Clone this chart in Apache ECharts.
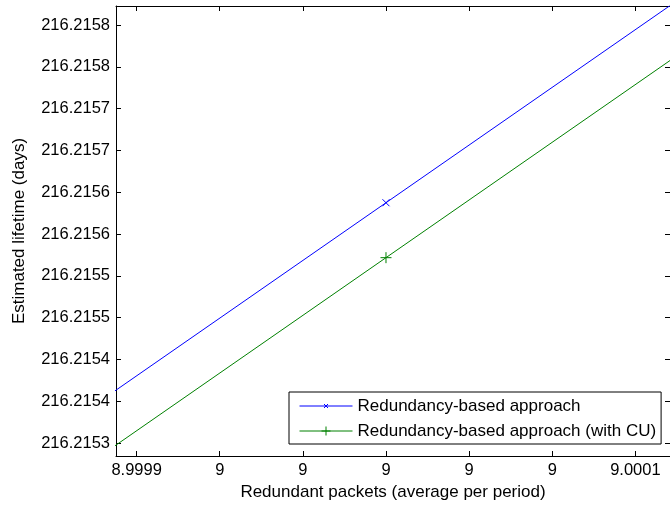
<!DOCTYPE html>
<html><head><meta charset="utf-8">
<script src="https://cdn.jsdelivr.net/npm/echarts@6/dist/echarts.min.js"></script>
<style>html,body{margin:0;padding:0;background:#fff}#c{width:670px;height:506px}</style>
</head><body><div id="c"></div>
<script>
// ---- data ----
const xValues = [8, 9, 10];
const seriesNames = ['Redundancy-based approach', 'Redundancy-based approach (with CU)'];
const redundancyValues = [212.7645874, 216.2155874, 219.6665874];
const redundancyCUValues = [212.7645217, 216.2155217, 219.6665217];
const xTickValues = [8.99994, 8.99996, 8.99998, 9.0, 9.00002, 9.00004, 9.00006];
const xTickLabels = ['8.9999', '9', '9', '9', '9', '9', '9.0001'];
const yTickValues = [216.2153, 216.21535, 216.2154, 216.21545, 216.2155, 216.21555, 216.2156, 216.21565, 216.2157, 216.21575, 216.2158];
const yTickLabels = ['216.2153', '216.2154', '216.2154', '216.2155', '216.2155', '216.2156', '216.2156', '216.2157', '216.2157', '216.2158', '216.2158'];
const xRange = [8.99993504, 9.00006833];
const yRange = [216.21528445, 216.21582273];

const FONT = "'Liberation Sans', Arial, Helvetica, sans-serif";
const BLUE = '#0000ff';
const GREEN = '#008000';

function labelFor(values, labels) {
  return function (v) {
    for (let i = 0; i < values.length; i++) {
      if (Math.abs(values[i] - v) < 1e-9) return labels[i];
    }
    return '';
  };
}

function makeAxis(kind, position, showLabels, name) {
  const vals = kind === 'x' ? xTickValues : yTickValues;
  const labs = kind === 'x' ? xTickLabels : yTickLabels;
  const range = kind === 'x' ? xRange : yRange;
  const ax = {
    type: 'value',
    position: position,
    min: range[0],
    max: range[1],
    scale: true,
    splitLine: { show: false },
    axisLine: { show: true, onZero: false, lineStyle: { color: '#000', width: 1 } },
    axisTick: { show: true, inside: true, length: 5, customValues: vals, lineStyle: { color: '#000', width: 1 } },
    axisLabel: {
      show: showLabels,
      customValues: vals,
      formatter: labelFor(vals, labs),
      color: '#000',
      fontSize: 16.5,
      fontFamily: FONT,
      margin: 6
    },
    silent: true
  };
  if (name) {
    ax.name = name;
    ax.nameLocation = 'middle';
    ax.nameTextStyle = { color: '#000', fontSize: 17, fontFamily: FONT };
    ax.nameGap = kind === 'x' ? 27 : 88;
  }
  return ax;
}

const chart = echarts.init(document.getElementById('c'), null, { renderer: 'canvas' });
chart.setOption({
  animation: false,
  backgroundColor: '#fff',
  grid: { left: 116, top: 6, width: 556, height: 450, containLabel: false },
  xAxis: [
    makeAxis('x', 'bottom', true, 'Redundant packets (average per period)'),
    makeAxis('x', 'top', false, null)
  ],
  yAxis: [
    makeAxis('y', 'left', true, 'Estimated lifetime (days)'),
    makeAxis('y', 'right', false, null)
  ],
  legend: {
    left: 289,
    top: 392,
    orient: 'vertical',
    itemWidth: 53,
    itemHeight: 14,
    itemGap: 7,
    padding: [5, 5, 4, 10],
    borderColor: '#000',
    borderWidth: 1,
    borderRadius: 0,
    backgroundColor: '#fff',
    selectedMode: false,
    itemStyle: { borderWidth: 1 },
    textStyle: { color: '#000', fontSize: 17, fontFamily: FONT, lineHeight: 18 },
    data: [
      { name: seriesNames[0], icon: 'path://M0 0M53 14M0 7L53 7M24.5 5L28.5 9M28.5 5L24.5 9' },
      { name: seriesNames[1], icon: 'path://M0 0M53 14M0 7L53 7M26.5 2.5L26.5 11.5M22 7L31 7' }
    ]
  },
  series: [
    {
      name: seriesNames[0],
      type: 'line',
      xAxisIndex: 0, yAxisIndex: 0,
      data: xValues.map((x, i) => [x, redundancyValues[i]]),
      symbol: 'path://M0 0L10 10M10 0L0 10',
      symbolSize: 7,
      showAllSymbol: true,
      clip: true,
      lineStyle: { color: BLUE, width: 1 },
      itemStyle: { color: BLUE, borderColor: BLUE, borderWidth: 1 },
      emphasis: { disabled: true },
      silent: true
    },
    {
      name: seriesNames[1],
      type: 'line',
      xAxisIndex: 0, yAxisIndex: 0,
      data: xValues.map((x, i) => [x, redundancyCUValues[i]]),
      symbol: 'path://M5 0L5 10M0 5L10 5',
      symbolSize: 11,
      showAllSymbol: true,
      clip: true,
      lineStyle: { color: GREEN, width: 1 },
      itemStyle: { color: GREEN, borderColor: GREEN, borderWidth: 1 },
      emphasis: { disabled: true },
      silent: true
    }
  ]
});
</script>
</body></html>
